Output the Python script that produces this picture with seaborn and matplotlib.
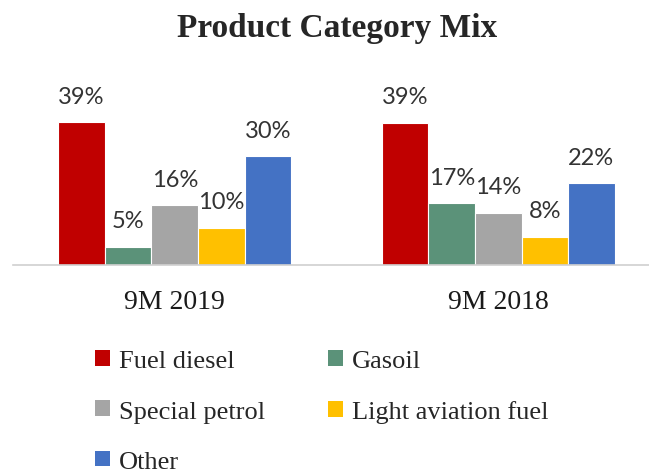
import matplotlib
matplotlib.use("Agg")
import matplotlib.pyplot as plt
from matplotlib.patches import Patch
import seaborn as sns
import pandas as pd

periods = ["9M 2019", "9M 2018"]
products = ["Fuel diesel", "Gasoil", "Special petrol", "Light aviation fuel", "Other"]
share_2019 = [39.0, 5.0, 16.3, 10.2, 29.7]
share_2018 = [38.8, 16.9, 14.3, 7.7, 22.3]
colors = ["#C00000", "#5B9279", "#A5A5A5", "#FFC000", "#4472C4"]

rows = []
for p, vals in zip(periods, [share_2019, share_2018]):
    for prod, v in zip(products, vals):
        rows.append({"period": p, "product": prod, "share": v})
df = pd.DataFrame(rows)

sns.set_style("white")
fig = plt.figure(figsize=(6.49, 4.77), dpi=100)
ax = fig.add_axes([13/649, 1 - 266/477, 636/649, (266 - 80)/477])

sns.barplot(data=df, x="period", y="share", hue="product", hue_order=products,
            order=periods, palette=colors, width=0.72, saturation=1,
            edgecolor="white", linewidth=0.8, ax=ax, legend=False)

ax.set_xlim(-0.5, -0.5 + 636/323.5)
ax.set_ylim(0, 186/3.67)
for c in ax.containers:
    ax.bar_label(c, labels=[f"{v:.0f}%" for v in c.datavalues], padding=11,
                 fontsize=17, family="Lato", color="#333333")

ax.set_xlabel("")
ax.set_ylabel("")
ax.set_yticks([])
ax.tick_params(axis="x", length=0, pad=17)
for lbl in ax.get_xticklabels():
    lbl.set_family("Liberation Serif")
    lbl.set_fontsize(20)
    lbl.set_color("#1a1a1a")
for s in ["top", "right", "left"]:
    ax.spines[s].set_visible(False)
ax.spines["bottom"].set_color("#d0d0d0")
ax.spines["bottom"].set_linewidth(1.2)

fig.text(337/649, 1 - 28/477, "Product Category Mix", ha="center", va="center",
         fontsize=24, fontweight="bold", family="Liberation Serif")

handles = [Patch(facecolor=c, edgecolor="none") for c in colors]
order = [0, 2, 4, 1, 3]
fig.legend([handles[i] for i in order], [products[i] for i in order],
           loc="upper left", bbox_to_anchor=(95/649, 1 - 351/477), ncol=2,
           frameon=False, prop={"family": "Liberation Serif", "size": 19},
           handlelength=0.55, handleheight=0.55, handletextpad=0.35,
           borderpad=0, borderaxespad=0,
           columnspacing=2.4, labelspacing=1.06)

fig.savefig("out.png", dpi=100)
